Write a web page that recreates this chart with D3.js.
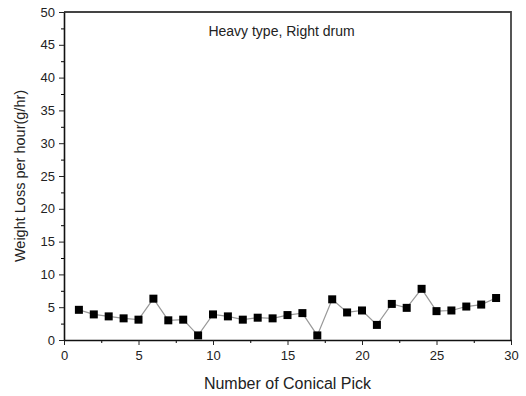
<!DOCTYPE html>
<html>
<head>
<meta charset="utf-8">
<script src="https://cdn.jsdelivr.net/npm/d3@7"></script>
<style>
  body { margin: 0; background: #fff; }
  svg text { font-family: "Liberation Sans", Arial, sans-serif; fill: #222; }
</style>
</head>
<body>
<script>
// picks 1..29 and their weight loss (g/hr)
const picks = d3.range(1, 30);
const weightLoss = [4.6, 3.9, 3.6, 3.3, 3.1, 6.3, 3.0, 3.1, 0.7, 3.9,
                    3.6, 3.1, 3.4, 3.3, 3.8, 4.1, 0.7, 6.2, 4.2, 4.5,
                    2.3, 5.5, 4.9, 7.8, 4.4, 4.5, 5.1, 5.4, 6.4];
const xTicks = [0, 5, 10, 15, 20, 25, 30];
const yTicks = [0, 5, 10, 15, 20, 25, 30, 35, 40, 45, 50];

const data = picks.map((p, i) => ({ x: p, y: weightLoss[i] }));

const W = 526, H = 396;
const margin = { top: 12, right: 15, bottom: 56, left: 64 };
const width = W - margin.left - margin.right;
const height = H - margin.top - margin.bottom;

const svg = d3.select('body').append('svg')
  .attr('width', W)
  .attr('height', H);

const g = svg.append('g')
  .attr('transform', `translate(${margin.left},${margin.top})`);

const x = d3.scaleLinear().domain([0, 30]).range([0, width]);
const y = d3.scaleLinear().domain([0, 50]).range([height, 0]);

// frame (top + right)
g.append('path')
  .attr('d', `M0,0H${width}V${height}`)
  .attr('fill', 'none')
  .attr('stroke', '#444')
  .attr('stroke-width', 1.8);

// minor ticks
g.append('g')
  .attr('transform', `translate(0,${height})`)
  .call(d3.axisBottom(x).tickValues(d3.range(2.5, 30, 5)).tickSize(3).tickFormat(''))
  .call(a => a.select('.domain').remove());
g.append('g')
  .call(d3.axisLeft(y).tickValues(d3.range(2.5, 50, 5)).tickSize(3).tickFormat(''))
  .call(a => a.select('.domain').remove());

const xAxis = g.append('g')
  .attr('transform', `translate(0,${height})`)
  .call(d3.axisBottom(x).tickValues(xTicks).tickSize(5).tickSizeOuter(0).tickPadding(6));
const yAxis = g.append('g')
  .call(d3.axisLeft(y).tickValues(yTicks).tickSize(5).tickSizeOuter(0).tickPadding(4));

[xAxis, yAxis].forEach(a => {
  a.selectAll('text').style('font-size', '13px').attr('fill', '#333');
  a.select('.domain').attr('stroke', '#111').attr('stroke-width', 1.6);
  a.selectAll('.tick line').attr('stroke', '#222');
});

// line
g.append('path')
  .datum(data)
  .attr('fill', 'none')
  .attr('stroke', '#999')
  .attr('stroke-width', 1.2)
  .attr('d', d3.line().x(d => x(d.x)).y(d => y(d.y)));

// markers
g.selectAll('.pt')
  .data(data)
  .enter()
  .append('rect')
  .attr('class', 'pt')
  .attr('x', d => x(d.x) - 4)
  .attr('y', d => y(d.y) - 4)
  .attr('width', 8)
  .attr('height', 8)
  .attr('fill', '#000');

g.append('text')
  .attr('x', x(14.6))
  .attr('y', 24)
  .attr('text-anchor', 'middle')
  .style('font-size', '14px')
  .text('Heavy type, Right drum');

svg.append('text')
  .attr('x', margin.left + width / 2)
  .attr('y', 389)
  .attr('text-anchor', 'middle')
  .style('font-size', '16px')
  .text('Number of Conical Pick');

svg.append('text')
  .attr('transform', `translate(25,${margin.top + height / 2}) rotate(-90)`)
  .attr('text-anchor', 'middle')
  .style('font-size', '14.5px')
  .text('Weight Loss per hour(g/hr)');
</script>
</body>
</html>
